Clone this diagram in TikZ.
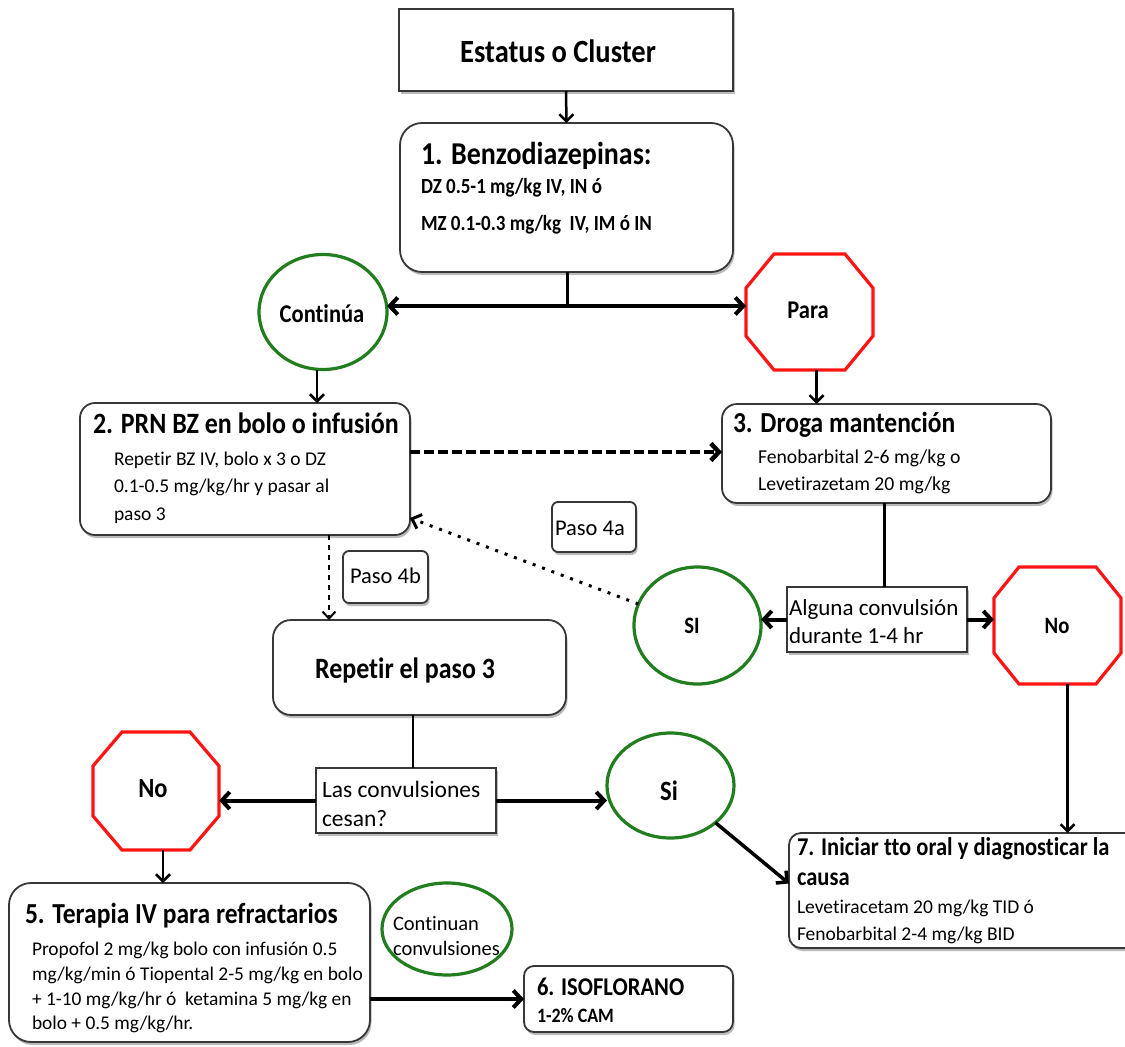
\documentclass[tikz,border=0pt]{standalone}
\usepackage{fontspec}
\setmainfont{Carlito}[Ligatures=NoCommon, BoldFeatures={FakeStretch=0.88}]
\usetikzlibrary{arrows.meta,shapes.geometric,shadows,calc}
\newcommand\myfs[1]{\fontsize{#1}{#1}\selectfont}
\definecolor{okgreen}{RGB}{34,125,30}
\definecolor{stopred}{RGB}{255,20,20}
\definecolor{edgegray}{RGB}{55,55,55}
\newcommand\octpath[3]{%
  \draw[oct] ($(#1.north west)+(#2,0)$) -- ($(#1.north east)+(-#2,0)$)
    -- ($(#1.north east)+(0,#3)$) -- ($(#1.south east)+(0,-#3)$)
    -- ($(#1.south east)+(-#2,0)$) -- ($(#1.south west)+(#2,0)$)
    -- ($(#1.south west)+(0,-#3)$) -- ($(#1.north west)+(0,#3)$) -- cycle;}
\begin{document}
\begin{tikzpicture}[x=1pt,y=-1pt,
  box/.style={draw=edgegray, line width=1.8pt, fill=white, inner sep=0pt, outer sep=0pt,
    drop shadow={shadow xshift=1.5pt, shadow yshift=-3pt, fill=black!60, opacity=0.45}},
  rbox/.style={box, rounded corners=15pt},
  gcirc/.style={ellipse, draw=okgreen, line width=3.2pt, fill=white, inner sep=0pt, outer sep=0pt},
  oct/.style={draw=stopred, line width=3.2pt, fill=white, line join=miter},
  anchorbox/.style={inner sep=0pt, outer sep=0pt},
  txt/.style={anchor=base west, inner sep=0pt, outer sep=0pt},
  ctxt/.style={anchor=base, inner sep=0pt, outer sep=0pt},
  arr/.style={line width=2.5pt, -{Straight Barb[length=7pt,width=14pt]}},
  thickarr/.style={line width=4pt, -{Straight Barb[length=8pt,width=17pt]}},
  dasharr/.style={line width=4.5pt, dash pattern=on 10pt off 4pt, -{Straight Barb[length=8pt,width=17pt]}},
  dotarr/.style={line width=3pt, dash pattern=on 3pt off 7pt, -{Straight Barb[length=8pt,width=15pt]}},
  dotvarr/.style={line width=2pt, dash pattern=on 5pt off 5pt, -{Straight Barb[length=7pt,width=13pt]}}
]
\useasboundingbox (0,0) rectangle (1125,1047);
\fill[white] (0,0) rectangle (1125,1047);

% ---------- nodes ----------
\node[box, minimum width=334pt, minimum height=82pt] (est) at (566,50) {};
\node[ctxt] (estt) at (558,62) {\myfs{32.4}\bfseries Estatus o Cluster};

\node[rbox, rounded corners=22pt, minimum width=333pt, minimum height=149pt] (b1) at (566.5,197.5) {};
\node[txt] (b1t) at (421,164) {\myfs{31.8}\bfseries 1. Benzodiazepinas:};
\node[txt] (b1a) at (421,193) {\myfs{21.6}\bfseries DZ 0.5-1 mg/kg IV, IN ó};
\node[txt] (b1b) at (421,230) {\myfs{21.6}\bfseries MZ 0.1-0.3 mg/kg\ \ IV, IM ó IN};

\node[gcirc, minimum width=128pt, minimum height=115pt] (cont) at (323,312) {};
\node[ctxt] (contt) at (322,322) {\myfs{25.6}\bfseries Continúa};

\node[anchorbox, minimum width=127pt, minimum height=116pt] (para) at (809.5,312) {};
\octpath{para}{28}{34}
\node[ctxt] (parat) at (808,318) {\myfs{25.6}\bfseries Para};

\node[rbox, minimum width=330pt, minimum height=132pt] (b2) at (245,469) {};
\node[txt] (b2t) at (93,433) {\myfs{29.5}\bfseries 2. PRN BZ en bolo o infusión};
\node[txt] (b2a) at (114,465) {\myfs{19.5}Repetir BZ IV, bolo x 3 o DZ};
\node[txt] (b2b) at (114,492) {\myfs{19.5}0.1-0.5 mg/kg/hr y pasar al};
\node[txt] (b2c) at (114,520) {\myfs{19.5}paso 3};

\node[rbox, minimum width=329pt, minimum height=99pt] (b3) at (886.5,453.5) {};
\node[txt] (b3t) at (733,432) {\myfs{29}\bfseries 3. Droga mantención};
\node[txt] (b3a) at (758,463) {\myfs{19.7}Fenobarbital 2-6 mg/kg o};
\node[txt] (b3b) at (758,490) {\myfs{19.7}Levetirazetam 20 mg/kg};

\node[box, rounded corners=6pt, minimum width=84pt, minimum height=50pt] (p4a) at (594,527) {};
\node[txt] (p4at) at (555,535) {\myfs{22.5}Paso 4a};
\node[box, rounded corners=6pt, minimum width=85pt, minimum height=52pt] (p4b) at (385.5,577) {};
\node[txt] (p4bt) at (350,583) {\myfs{22.5}Paso 4b};

\node[rbox, rounded corners=18pt, minimum width=293pt, minimum height=95pt] (rep) at (419.5,667.5) {};
\node[txt] (rept) at (315,678) {\myfs{29.5}\bfseries Repetir el paso 3};

\node[box, minimum width=180pt, minimum height=65pt] (alg) at (877,619.5) {};
\node[txt] (alga) at (789,615) {\myfs{23}Alguna convulsión};
\node[txt] (algb) at (789,643) {\myfs{23}durante 1-4 hr};

\node[gcirc, minimum width=127pt, minimum height=117pt] (si1) at (697.5,625.5) {};
\node[ctxt] (si1t) at (692,633) {\myfs{23.5}\bfseries SI};

\node[anchorbox, minimum width=127pt, minimum height=117pt] (no1) at (1057.5,625.5) {};
\octpath{no1}{25}{31}
\node[ctxt] (no1t) at (1057,633) {\myfs{23.5}\bfseries No};

\node[box, minimum width=180pt, minimum height=65pt] (las) at (406,800.5) {};
\node[txt] (lasa) at (322,797) {\myfs{23.5}Las convulsiones};
\node[txt] (lasb) at (322,826) {\myfs{23.5}cesan?};

\node[anchorbox, minimum width=126pt, minimum height=118pt] (no2) at (156,791) {};
\octpath{no2}{29}{34}
\node[ctxt] (no2t) at (153,797) {\myfs{27.8}\bfseries No};

\node[gcirc, minimum width=127pt, minimum height=105pt] (si2) at (670.5,785.5) {};
\node[ctxt] (si2t) at (669,800) {\myfs{28}\bfseries Si};

\node[rbox, rounded corners=12pt, minimum width=351pt, minimum height=115pt] (b7) at (964.5,890.5) {};
\node[txt] (b7t) at (797,855) {\myfs{25.6}\bfseries 7. Iniciar tto oral y diagnosticar la};
\node[txt] (b7u) at (797,885) {\myfs{25.6}\bfseries causa};
\node[txt] (b7a) at (797,913) {\myfs{19.5}Levetiracetam 20 mg/kg TID ó};
\node[txt] (b7b) at (797,940) {\myfs{19.5}Fenobarbital 2-4 mg/kg BID};

\node[rbox, rounded corners=22pt, minimum width=361pt, minimum height=159pt] (b5) at (189.5,962.5) {};
\node[txt] (b5t) at (25,923) {\myfs{29}\bfseries 5. Terapia IV para refractarios};
\node[txt] (b5a) at (32,955) {\myfs{19.4}Propofol 2 mg/kg bolo con infusión 0.5};
\node[txt] (b5b) at (32,980) {\myfs{19.4}mg/kg/min ó Tiopental 2-5 mg/kg en bolo};
\node[txt] (b5c) at (32,1005) {\myfs{19.4}+ 1-10 mg/kg/hr ó\ \ ketamina 5 mg/kg en};
\node[txt] (b5d) at (32,1029) {\myfs{19.4}bolo + 0.5 mg/kg/hr.};

\node[gcirc, minimum width=130pt, minimum height=92pt] (cc) at (447,929) {};
\node[txt] (cca) at (393,930) {\myfs{20.5}Continuan};
\node[txt] (ccb) at (393,955) {\myfs{20.5}convulsiones};

\node[rbox, rounded corners=10pt, minimum width=209pt, minimum height=66pt] (b6) at (628.5,999) {};
\node[txt] (b6t) at (537,995) {\myfs{25.6}\bfseries 6. ISOFLORANO};
\node[txt] (b6a) at (537,1022) {\myfs{20.4}\bfseries 1-2\% CAM};

% ---------- connectors ----------
\coordinate (split) at (567,306);
\coordinate (c4b) at (329,0);
\coordinate (c413) at (413,0);

\draw[arr] (est.south) -- (b1.north);
\draw[line width=3pt] (split |- b1.south) -- (split);
\draw[thickarr] (split) -- (split -| cont.east);
\draw[thickarr] (split) -- (split -| para.west);
\draw[arr] ([xshift=-6pt]cont.south) -- ([xshift=-6pt]cont.south |- b2.north);
\draw[arr] ([xshift=7pt]para.south) -- ([xshift=7pt]para.south |- b3.north);
\draw[dasharr] ([yshift=17pt]b2.east) -- ([yshift=17pt]b2.east -| b3.west);
\draw[line width=2.5pt] ([xshift=-2pt]b3.south) -- ([xshift=-2pt]b3.south |- alg.north);
\draw[thickarr] (alg.west) -- (alg.west -| si1.east);
\draw[thickarr] (alg.east) -- (alg.east -| no1.west);
\draw[arr] ([xshift=10pt]no1.south) -- ([xshift=10pt]no1.south |- b7.north);
\draw[dotarr] (si1.160) -- ([yshift=17pt]b2.south east);
\draw[dotvarr] (b2.south -| c4b) -- (rep.north -| c4b);
\draw[line width=2.5pt] (rep.south -| c413) -- (las.north -| c413);
\draw[thickarr] (las.west) -- (las.west -| no2.east);
\draw[thickarr] (las.east) -- (las.east -| si2.west);
\draw[line width=3.5pt, -{Straight Barb[length=8pt,width=16pt]}] (si2.south east) -- ([yshift=7pt]b7.west);
\draw[arr] ([xshift=7pt]no2.south) -- ([xshift=7pt]no2.south |- b5.north);
\draw[thickarr] (b5.east |- b6.west) -- (b6.west);
\end{tikzpicture}
\end{document}
